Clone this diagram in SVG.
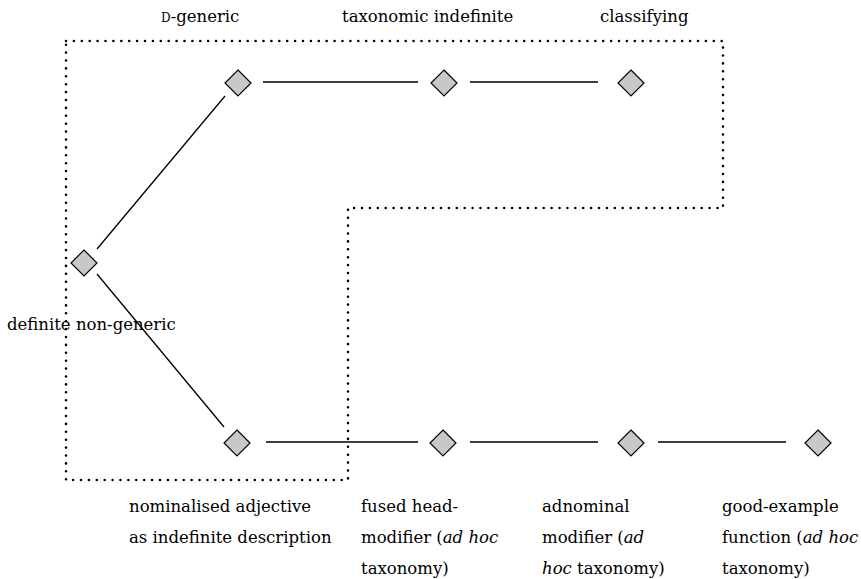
<svg xmlns="http://www.w3.org/2000/svg" width="861" height="579" viewBox="0 0 861 579">
<style>
.node polygon{fill:#c8c8c8;stroke:#000;stroke-width:1.2}
.edge{stroke:#000;stroke-width:1.3;fill:none}
.region{stroke:#000;stroke-width:2.6;fill:none;stroke-dasharray:0 7.9;stroke-linecap:round}
text{font-family:"DejaVu Serif","Liberation Serif",serif;font-size:16.5px;fill:#000}
.sc{font-variant:small-caps}
</style>
<rect width="861" height="579" fill="#fff"/>
<path class="region" d="M66,41 H723 V208 H348 V480 H66 Z"/>
<g id="connectors">
<line class="edge" x1="263" y1="82" x2="418" y2="82"/>
<line class="edge" x1="470" y1="82" x2="598" y2="82"/>
<line class="edge" x1="266" y1="442" x2="418" y2="442"/>
<line class="edge" x1="470" y1="442" x2="598" y2="442"/>
<line class="edge" x1="658" y1="442" x2="786" y2="442"/>
<line class="edge" x1="97" y1="249" x2="225" y2="96"/>
<line class="edge" x1="97" y1="274" x2="224" y2="427"/>
</g>
<g id="n-dgeneric" class="node"><polygon points="238,70 251,83 238,96 225,83"/><text x="161" y="22"><tspan class="sc">d</tspan>-generic</text></g>
<g id="n-taxind" class="node"><polygon points="444,70 457,83 444,96 431,83"/><text x="342" y="22">taxonomic indefinite</text></g>
<g id="n-class" class="node"><polygon points="631,70 644,83 631,96 618,83"/><text x="600" y="22">classifying</text></g>
<g id="n-defnon" class="node"><polygon points="84,250 97,263 84,276 71,263"/><text x="7" y="330">definite non-generic</text></g>
<g id="n-nomadj" class="node"><polygon points="237,430 250,443 237,456 224,443"/><text x="129" y="512">nominalised adjective</text><text x="129" y="543">as indefinite description</text></g>
<g id="n-fused" class="node"><polygon points="443,430 456,443 443,456 430,443"/><text x="361" y="512">fused head-</text><text x="361" y="543">modifier (<tspan font-style="italic">ad hoc</tspan></text><text x="361" y="574">taxonomy)</text></g>
<g id="n-adnom" class="node"><polygon points="631,430 644,443 631,456 618,443"/><text x="542" y="512">adnominal</text><text x="542" y="543">modifier (<tspan font-style="italic">ad</tspan></text><text x="542" y="574"><tspan font-style="italic">hoc</tspan> taxonomy)</text></g>
<g id="n-goodex" class="node"><polygon points="818,430 831,443 818,456 805,443"/><text x="722" y="512">good-example</text><text x="722" y="543">function (<tspan font-style="italic">ad hoc</tspan></text><text x="722" y="574">taxonomy)</text></g>
</svg>
